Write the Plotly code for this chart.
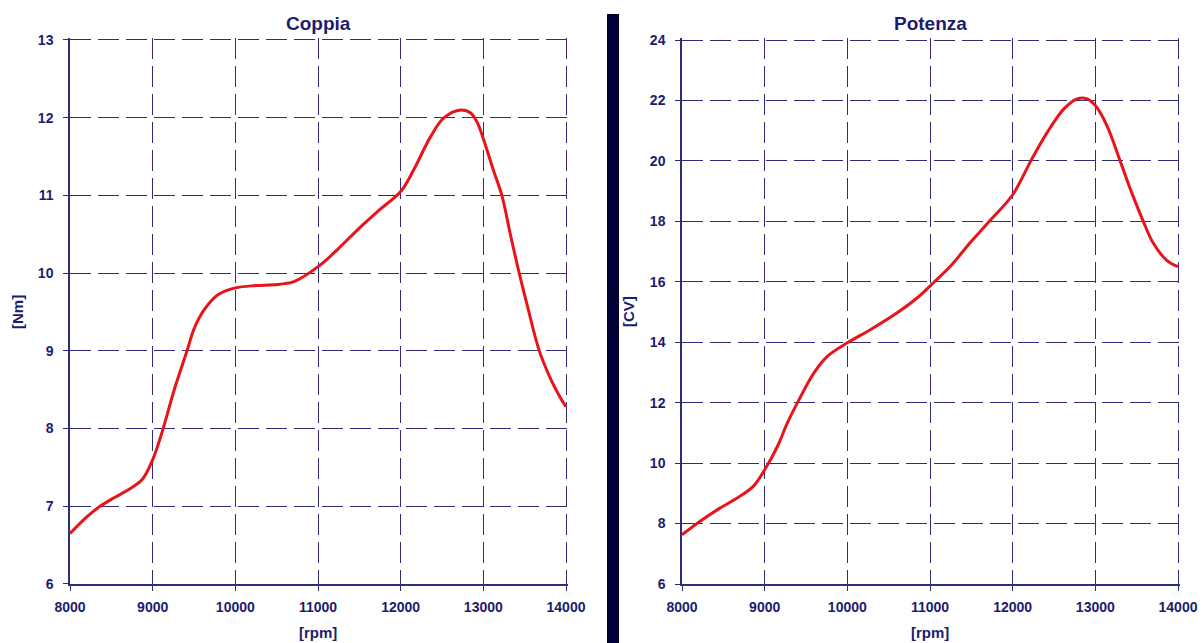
import plotly.graph_objects as go

# ---- data ----
rpm_torque = [8000, 8200, 8364, 8550, 8700, 8870, 9000, 9121, 9261, 9415, 9503, 9624, 9786,
              10000, 10250, 10465, 10707, 11010, 11232, 11500, 11750, 12000, 12158, 12364,
              12525, 12727, 12848, 12930, 13009, 13120, 13224, 13333, 13434, 13535, 13677,
              13818, 13920, 14000]
torque_nm = [6.65, 6.86, 7.0, 7.12, 7.21, 7.34, 7.6, 7.98, 8.5, 9.0, 9.29, 9.53, 9.72,
             9.81, 9.84, 9.85, 9.89, 10.09, 10.3, 10.58, 10.82, 11.05, 11.33, 11.76,
             12.0, 12.1, 12.06, 11.93, 11.7, 11.33, 11.0, 10.47, 10.0, 9.57, 9.0,
             8.63, 8.42, 8.28]

rpm_power = [8000, 8215, 8458, 8700, 8862, 9000, 9154, 9275, 9397, 9600, 9761, 10000,
             10283, 10607, 10850, 11053, 11258, 11498, 11718, 12000, 12220, 12420, 12620,
             12780, 12900, 13000, 13140, 13300, 13440, 13580, 13700, 13860, 14000]
power_cv = [7.63, 8.07, 8.51, 8.9, 9.23, 9.78, 10.55, 11.33, 12.0, 13.0, 13.54, 13.98,
            14.42, 14.98, 15.48, 16.0, 16.55, 17.33, 18.0, 18.88, 20.0, 20.95, 21.72,
            22.05, 22.05, 21.83, 21.17, 20.0, 18.95, 18.0, 17.28, 16.72, 16.5]

x_ticks = [8000, 9000, 10000, 11000, 12000, 13000, 14000]
x_labels = ["8000", "9000", "10000", "11000", "12000", "13000", "14000"]
torque_ticks = [6, 7, 8, 9, 10, 11, 12, 13]
power_ticks = [6, 8, 10, 12, 14, 16, 18, 20, 22, 24]

titles = ["Coppia", "Potenza"]
y_titles = ["[Nm]", "[CV]"]
x_title = "[rpm]"

# ---- style ----
W, H = 1204, 643
NAVY = "#1c1c6e"
GRID = "#2e2e78"
RED = "#e8141a"
FONT = "Liberation Sans, Arial, sans-serif"

# pixel layout of the plot areas (value ranges slightly padded so edge gridlines show)
X_MIN, X_MAX = 8000, 14000
X_PAD = 30
def xdomain(p0, p1):
    ppu = (p1 - p0) / (X_MAX - X_MIN)
    return [p0 / W, (p1 + X_PAD * ppu) / W]

def ydomain_and_range(top, bottom, lo, hi, pad):
    ppu = (bottom - top) / (hi - lo)
    return [1 - bottom / H, 1 - (top - pad * ppu) / H], [lo, hi + pad]

xdom1 = xdomain(70, 566)
xdom2 = xdomain(682, 1178)
ydom1, yr1 = ydomain_and_range(40, 584, 6, 13, 0.03)
ydom2, yr2 = ydomain_and_range(40, 584, 6, 24, 0.08)

fig = go.Figure()
fig.add_trace(go.Scatter(x=rpm_torque, y=torque_nm, mode="lines", line_shape="spline",
                         line=dict(color=RED, width=3), xaxis="x", yaxis="y", showlegend=False))
fig.add_trace(go.Scatter(x=rpm_power, y=power_cv, mode="lines", line_shape="spline",
                         line=dict(color=RED, width=3), xaxis="x2", yaxis="y2", showlegend=False))

def common():
    return dict(showgrid=True, gridcolor=GRID, gridwidth=1, griddash="21px,7px",
                showline=True, linecolor=GRID, linewidth=1.5, ticks="outside", ticklen=5,
                tickcolor=GRID, zeroline=False,
                tickfont=dict(family=FONT, size=14, color=NAVY, weight="bold"))

def xaxis(dom, anchor):
    d = common()
    d.update(domain=dom, anchor=anchor, range=[X_MIN, X_MAX + X_PAD],
             tickvals=x_ticks, ticktext=x_labels, ticklabelstandoff=4)
    return d

def yaxis(dom, anchor, rng, ticks):
    d = common()
    d.update(domain=dom, anchor=anchor, range=rng, tickvals=ticks,
             ticktext=[str(t) for t in ticks], ticklabelstandoff=7)
    return d

fig.update_layout(
    width=W, height=H, margin=dict(l=0, r=0, t=0, b=0, autoexpand=False),
    paper_bgcolor="white", plot_bgcolor="white",
    xaxis=xaxis(xdom1, "y"), yaxis=yaxis(ydom1, "x", yr1, torque_ticks),
    xaxis2=xaxis(xdom2, "y2"), yaxis2=yaxis(ydom2, "x2", yr2, power_ticks),
)

ann = []
for (p0, p1), t in zip([(70, 566), (682, 1178)], titles):
    cx = (p0 + p1) / 2 / W
    ann.append(dict(text=t, x=cx, y=1 - 23 / H, xref="paper", yref="paper", showarrow=False,
                    xanchor="center", yanchor="middle",
                    font=dict(family=FONT, size=19, color=NAVY, weight="bold")))
    ann.append(dict(text=x_title, x=cx, y=1 - 632 / H, xref="paper", yref="paper", showarrow=False,
                    xanchor="center", yanchor="middle",
                    font=dict(family=FONT, size=15, color=NAVY, weight="bold")))
for px, t in zip([17, 628], y_titles):
    ann.append(dict(text=t, x=px / W, y=1 - 312 / H, xref="paper", yref="paper", showarrow=False,
                    xanchor="center", yanchor="middle", textangle=-90,
                    font=dict(family=FONT, size=15, color=NAVY, weight="bold")))
fig.update_layout(annotations=ann)

fig.add_shape(type="rect", xref="paper", yref="paper", x0=607 / W, x1=619 / W,
              y0=0, y1=1 - 14 / H, fillcolor="#000035", line=dict(width=0), layer="above")

fig.write_html("out.html", config={"displayModeBar": False},
               post_script="document.body.style.margin='0';document.body.style.overflow='hidden';")
